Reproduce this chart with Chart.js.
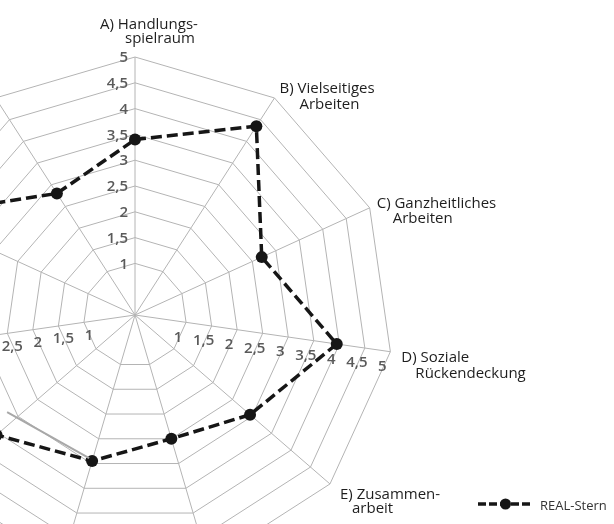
<!DOCTYPE html>
<html>
<head>
<meta charset="utf-8">
<script src="https://cdn.jsdelivr.net/npm/chart.js@4.4.0/dist/chart.umd.min.js"></script>
<style>
  html, body { margin: 0; padding: 0; background: #fff; overflow: hidden; }
  #wrap { position: relative; width: 614px; height: 524px; overflow: hidden; background: #fff; }
  #radarChart { position: absolute; left: -200px; top: -43px; }
</style>
</head>
<body>
<div id="wrap"><canvas id="radarChart" width="993" height="700"></canvas></div>
<script>
// Axes of the star (only A-E are inside the visible picture)
const categories = [
  ["A) Handlungs-", "spielraum"],
  ["B) Vielseitiges", "Arbeiten"],
  ["C) Ganzheitliches", "Arbeiten"],
  ["D) Soziale", "Rückendeckung"],
  ["E) Zusammen-", "arbeit"],
  ["F) Quantitative", "Arbeitsbelastung"],
  ["G) Qualitative", "Arbeitsbelastung"],
  ["H) Arbeits-", "unterbrechungen"],
  ["I) Umgebungs-", "belastungen"],
  ["J) Information", "und Mitsprache"],
  ["K) Betriebliche", "Leistungen"],
];

const seriesName = "REAL-Stern";
const realStern = [3.4, 4.35, 2.7, 3.95, 2.95, 2.5, 2.95, 3.55, 3.5, 4.65, 2.8];

const tickValues = [1, 1.5, 2, 2.5, 3, 3.5, 4, 4.5, 5];

// canvas is bigger than the page and shifted, the star is cut at the left
const SHIFT_X = 200;
const SHIFT_Y = 43;

// label placement relative to the outer vertex of each axis [line1, line2]
const labelOffsets = [
  [[-35, -28], [-10, -14]],
  [[5, -5], [25, 11]],
  [[7, 0], [23, 15]],
  [[11, 10], [25, 26]],
  [[10, 15], [22, 29]],
];

function fmt(v) {
  return String(v).replace(".", ",");
}

const starDecor = {
  id: "starDecor",
  afterDraw(chart) {
    const ctx = chart.ctx;
    const scale = chart.scales.r;
    const ds = chart.data.datasets[0];

    ctx.save();

    // axis titles
    ctx.font = '15px "Open Sans"';
    ctx.fillStyle = "#1e1e1e";
    ctx.textBaseline = "alphabetic";
    categories.forEach((lines, i) => {
      const v = scale.getPointPositionForValue(i, scale.max);
      if (labelOffsets[i]) {
        ctx.textAlign = "left";
        lines.forEach((line, k) => {
          ctx.fillText(line, v.x + labelOffsets[i][k][0], v.y + labelOffsets[i][k][1]);
        });
      } else {
        // left half: right aligned against the outer vertex
        ctx.textAlign = "right";
        lines.forEach((line, k) => ctx.fillText(line, v.x - 10, v.y + k * 15));
      }
    });

    // scale numbers on three axes
    ctx.font = '600 15px "Open Sans"';
    ctx.fillStyle = "#5a5a5a";
    ctx.textBaseline = "middle";
    tickValues.forEach((t) => {
      let p = scale.getPointPositionForValue(0, t);
      ctx.textAlign = "right";
      ctx.fillText(fmt(t), p.x - 7, p.y + 1);

      ctx.textAlign = "center";
      p = scale.getPointPositionForValue(3, t);
      ctx.fillText(fmt(t), p.x - 8, p.y + 15);

      p = scale.getPointPositionForValue(8, t);
      ctx.fillText(fmt(t), p.x + 5, p.y + 13);
    });

    // thin grey leader line at point G
    const g = scale.getPointPositionForValue(6, realStern[6]);
    ctx.strokeStyle = "#a8a8a8";
    ctx.lineWidth = 2;
    ctx.beginPath();
    ctx.moveTo(g.x - 3, g.y - 3);
    ctx.lineTo(g.x - 85, g.y - 49);
    ctx.stroke();

    // legend
    const lx = 478 + SHIFT_X;
    const ly = 504 + SHIFT_Y;
    ctx.strokeStyle = ds.borderColor;
    ctx.lineWidth = ds.borderWidth;
    ctx.setLineDash([8, 3]);
    ctx.beginPath();
    ctx.moveTo(lx, ly);
    ctx.lineTo(lx + 53, ly);
    ctx.stroke();
    ctx.setLineDash([]);
    ctx.fillStyle = ds.pointBackgroundColor;
    ctx.beginPath();
    ctx.arc(lx + 27.5, ly, 5.5, 0, Math.PI * 2);
    ctx.fill();

    ctx.font = '13px "Open Sans"';
    ctx.fillStyle = "#333333";
    ctx.textAlign = "left";
    ctx.textBaseline = "alphabetic";
    ctx.fillText(ds.label, 540 + SHIFT_X, 510 + SHIFT_Y);

    ctx.restore();
  },
};

const ctx = document.getElementById("radarChart");

new Chart(ctx, {
  type: "radar",
  data: {
    labels: categories.map((c) => c.join(" ")),
    datasets: [
      {
        label: seriesName,
        data: realStern,
        borderColor: "#161616",
        borderWidth: 3.5,
        borderDash: [11, 5],
        fill: false,
        tension: 0,
        pointRadius: 6,
        pointBackgroundColor: "#161616",
        pointBorderWidth: 0,
      },
    ],
  },
  options: {
    responsive: false,
    animation: false,
    devicePixelRatio: 1,
    layout: {
      padding: { left: 77, right: 400, top: 100, bottom: 84 },
    },
    plugins: {
      legend: { display: false },
      tooltip: { enabled: false },
    },
    scales: {
      r: {
        min: 0,
        max: 5,
        ticks: {
          stepSize: 0.5,
          display: false,
        },
        pointLabels: { display: false },
        grid: {
          color: function (context) {
            return context.tick && context.tick.value === 0.5 ? "rgba(0,0,0,0)" : "#b4b4b4";
          },
          lineWidth: 1,
        },
        angleLines: {
          color: "#b4b4b4",
          lineWidth: 1,
        },
      },
    },
  },
  plugins: [starDecor],
});
</script>
</body>
</html>
